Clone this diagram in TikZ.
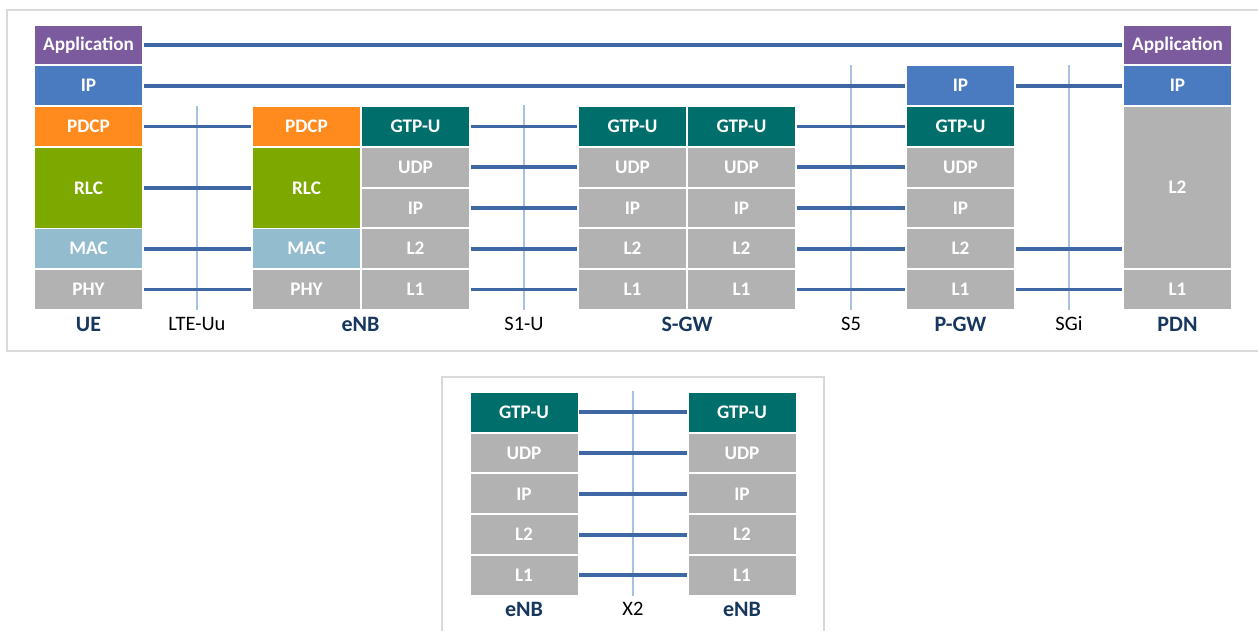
\documentclass[tikz,border=0pt]{standalone}
\usepackage{fontspec}
\setmainfont{Carlito}
\definecolor{apppurple}{HTML}{7B5B9E}
\definecolor{ipblue}{HTML}{4A7AC0}
\definecolor{pdcporange}{HTML}{FF8A1E}
\definecolor{rlcgreen}{HTML}{7CA800}
\definecolor{macblue}{HTML}{93BCCF}
\definecolor{graybox}{HTML}{B2B2B2}
\definecolor{gtpteal}{HTML}{006F6B}
\definecolor{lineblue}{HTML}{3F67A3}
\definecolor{ifaceblue}{HTML}{A7C1E3}
\definecolor{framegray}{HTML}{D9D9D9}
\definecolor{navy}{HTML}{17375E}
\newcommand\stackfont{\fontsize{19.2}{22}\selectfont\bfseries}
\newcommand\capfont{\fontsize{20.5}{24}\selectfont}
\newcommand\namefont{\fontsize{22}{26}\selectfont\bfseries}
\tikzset{
  stackbox/.style={rectangle, inner sep=0pt, minimum width=107pt, minimum height=38.7pt, text=white, font=\stackfont},
  link/.style={draw=lineblue, line width=3.8pt, shorten <=1.5pt, shorten >=1.5pt},
  iface/.style={draw=ifaceblue, line width=1.3pt},
  nodelabel/.style={font=\namefont, text=navy, inner sep=0pt},
  ifacelabel/.style={font=\capfont, text=black, inner sep=0pt},
  framebox/.style={draw=framegray, line width=2pt},
}
\begin{document}
\begin{tikzpicture}[x=1pt,y=-1pt]
\useasboundingbox (0,0) rectangle (1258,630);
\fill[white] (0,0) rectangle (1258,630);
% frames
\draw[framebox] (7,10) rectangle (1275,351);
\draw[framebox] (442,377) rectangle (824,645);

% interface vertical lines
\coordinate (uuT) at (197,106); \coordinate (uuB) at (197,310);
\coordinate (s1T) at (524,105); \coordinate (s1B) at (524,310);
\coordinate (s5T) at (851,65);  \coordinate (s5B) at (851,310);
\coordinate (sgT) at (1069,65); \coordinate (sgB) at (1069,310);
\coordinate (x2T) at (633,391); \coordinate (x2B) at (633,596);
\draw[iface] (uuT) -- (uuB);
\draw[iface] (s1T) -- (s1B);
\draw[iface] (s5T) -- (s5B);
\draw[iface] (sgT) -- (sgB);
\draw[iface] (x2T) -- (x2B);

% UE
\node[stackbox, fill=apppurple] (ueApp) at (88.5,44.9) {Application};
\node[stackbox, fill=ipblue] (ueIP) at (88.5,85.6) {IP};
\node[stackbox, fill=pdcporange] (uePDCP) at (88.5,126.4) {PDCP};
\node[stackbox, fill=rlcgreen, minimum height=80.2pt] (ueRLC) at (88.5,187.9) {RLC};
\node[stackbox, fill=macblue] (ueMAC) at (88.5,248.6) {MAC};
\node[stackbox, fill=graybox] (uePHY) at (88.5,289.4) {PHY};

% eNB radio side
\node[stackbox, fill=pdcporange] (enPDCP) at (306.5,126.4) {PDCP};
\node[stackbox, fill=rlcgreen, minimum height=80.2pt] (enRLC) at (306.5,187.9) {RLC};
\node[stackbox, fill=macblue] (enMAC) at (306.5,248.6) {MAC};
\node[stackbox, fill=graybox] (enPHY) at (306.5,289.4) {PHY};
% eNB S1 side
\node[stackbox, fill=gtpteal] (enGTP) at (415.5,126.4) {GTP-U};
\node[stackbox, fill=graybox] (enUDP) at (415.5,167.2) {UDP};
\node[stackbox, fill=graybox] (enIP) at (415.5,207.9) {IP};
\node[stackbox, fill=graybox] (enL2) at (415.5,248.6) {L2};
\node[stackbox, fill=graybox] (enL1) at (415.5,289.4) {L1};

% S-GW left
\node[stackbox, fill=gtpteal] (saGTP) at (632.5,126.4) {GTP-U};
\node[stackbox, fill=graybox] (saUDP) at (632.5,167.2) {UDP};
\node[stackbox, fill=graybox] (saIP) at (632.5,207.9) {IP};
\node[stackbox, fill=graybox] (saL2) at (632.5,248.6) {L2};
\node[stackbox, fill=graybox] (saL1) at (632.5,289.4) {L1};
% S-GW right
\node[stackbox, fill=gtpteal] (sbGTP) at (741.5,126.4) {GTP-U};
\node[stackbox, fill=graybox] (sbUDP) at (741.5,167.2) {UDP};
\node[stackbox, fill=graybox] (sbIP) at (741.5,207.9) {IP};
\node[stackbox, fill=graybox] (sbL2) at (741.5,248.6) {L2};
\node[stackbox, fill=graybox] (sbL1) at (741.5,289.4) {L1};

% P-GW
\node[stackbox, fill=ipblue] (pgIPu) at (960.5,85.6) {IP};
\node[stackbox, fill=gtpteal] (pgGTP) at (960.5,126.4) {GTP-U};
\node[stackbox, fill=graybox] (pgUDP) at (960.5,167.2) {UDP};
\node[stackbox, fill=graybox] (pgIP) at (960.5,207.9) {IP};
\node[stackbox, fill=graybox] (pgL2) at (960.5,248.6) {L2};
\node[stackbox, fill=graybox] (pgL1) at (960.5,289.4) {L1};

% PDN
\node[stackbox, fill=apppurple] (pdApp) at (1177.5,44.9) {Application};
\node[stackbox, fill=ipblue] (pdIP) at (1177.5,85.6) {IP};
\node[stackbox, fill=graybox, minimum height=161pt] (pdL2) at (1177.5,187.5) {L2};
\node[stackbox, fill=graybox] (pdL1) at (1177.5,289.4) {L1};

% links
\draw[link] (ueApp) -- (pdApp);
\draw[link] (ueIP) -- (pgIPu);
\draw[link] (pgIPu) -- (pdIP);
\draw[link] (uePDCP) -- (enPDCP);
\draw[link] (ueRLC) -- (enRLC);
\draw[link] (ueMAC) -- (enMAC);
\draw[link] (uePHY) -- (enPHY);
\draw[link] (enGTP) -- (saGTP);
\draw[link] (enUDP) -- (saUDP);
\draw[link] (enIP) -- (saIP);
\draw[link] (enL2) -- (saL2);
\draw[link] (enL1) -- (saL1);
\draw[link] (sbGTP) -- (pgGTP);
\draw[link] (sbUDP) -- (pgUDP);
\draw[link] (sbIP) -- (pgIP);
\draw[link] (sbL2) -- (pgL2);
\draw[link] (sbL1) -- (pgL1);
\draw[link] (pgL2.east) -- (pgL2.east -| pdL2.west);
\draw[link] (pgL1) -- (pdL1);

% captions
\node[nodelabel] (capUE) at (88.5,324) {UE};
\node[ifacelabel] (capUu) at (197,324) {LTE-Uu};
\node[nodelabel] (capeNB) at (360.5,324) {eNB};
\node[ifacelabel] (capS1) at (524,324) {S1-U};
\node[nodelabel] (capSGW) at (687,324) {S-GW};
\node[ifacelabel] (capS5) at (851,324) {S5};
\node[nodelabel] (capPGW) at (960.5,324) {P-GW};
\node[ifacelabel] (capSGi) at (1069,324) {SGi};
\node[nodelabel] (capPDN) at (1177.5,324) {PDN};

% X2 stacks
\node[stackbox, fill=gtpteal] (xaGTP) at (524,412.3) {GTP-U};
\node[stackbox, fill=graybox] (xaUDP) at (524,453) {UDP};
\node[stackbox, fill=graybox] (xaIP) at (524,493.8) {IP};
\node[stackbox, fill=graybox] (xaL2) at (524,534.6) {L2};
\node[stackbox, fill=graybox] (xaL1) at (524,575.3) {L1};
\node[stackbox, fill=gtpteal] (xbGTP) at (742,412.3) {GTP-U};
\node[stackbox, fill=graybox] (xbUDP) at (742,453) {UDP};
\node[stackbox, fill=graybox] (xbIP) at (742,493.8) {IP};
\node[stackbox, fill=graybox] (xbL2) at (742,534.6) {L2};
\node[stackbox, fill=graybox] (xbL1) at (742,575.3) {L1};
\draw[link] (xaGTP) -- (xbGTP);
\draw[link] (xaUDP) -- (xbUDP);
\draw[link] (xaIP) -- (xbIP);
\draw[link] (xaL2) -- (xbL2);
\draw[link] (xaL1) -- (xbL1);
\node[nodelabel] (capXa) at (524,609) {eNB};
\node[ifacelabel] (capX2) at (633,609) {X2};
\node[nodelabel] (capXb) at (742,609) {eNB};
\end{tikzpicture}
\end{document}
